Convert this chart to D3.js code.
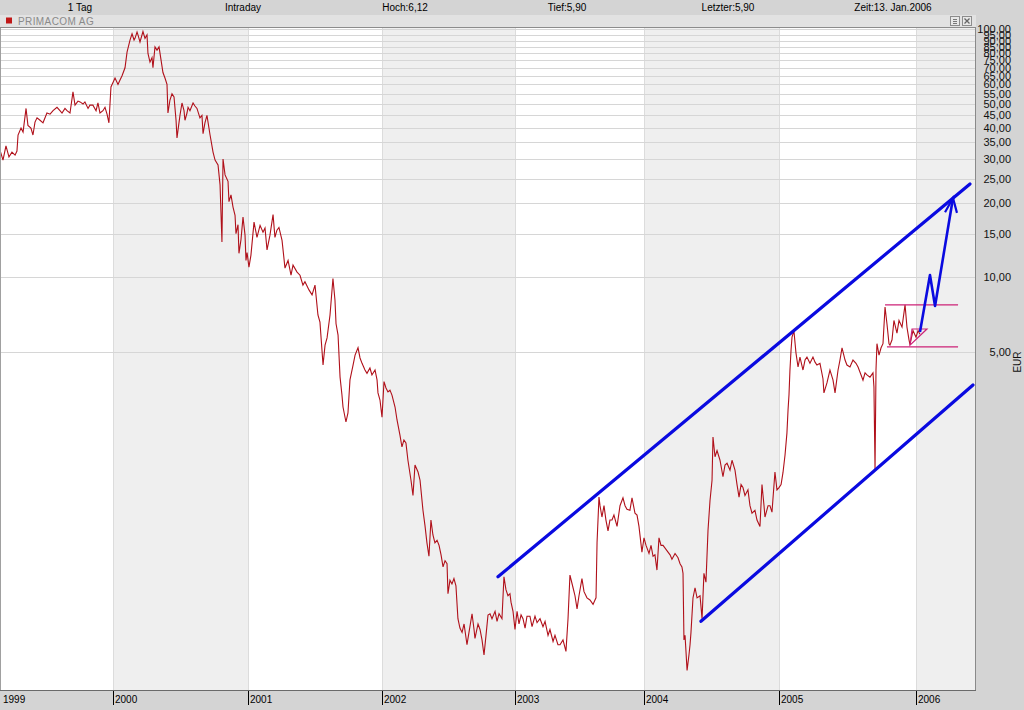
<!DOCTYPE html>
<html><head><meta charset="utf-8">
<script src="https://cdn.jsdelivr.net/npm/d3@7"></script>
<style>
html,body{margin:0;padding:0;background:#d4d4d4;}
svg{display:block;font-family:"Liberation Sans",Arial,sans-serif;}
</style></head>
<body>
<svg id="c" width="1024" height="710"></svg>
<script>
// ---------- DATA ----------
const headerItems = ["1 Tag", "Intraday", "Hoch:6,12", "Tief:5,90", "Letzter:5,90", "Zeit:13. Jan.2006"];
const seriesName = "PRIMACOM AG";
const yearLabels = ["1999", "2000", "2001", "2002", "2003", "2004", "2005", "2006"];
const yearStarts = [1999.167, 2000, 2001, 2002, 2003, 2004, 2005, 2006, 2007];
const yTicks = [5, 10, 15, 20, 25, 30, 35, 40, 45, 50, 55, 60, 65, 70, 75, 80, 85, 90, 95, 100];
const unitLabel = "EUR";
// price series: [decimal year, price EUR]
const dates = [
1999.167,1999.189,1999.211,1999.233,1999.255,1999.278,1999.292,1999.300,1999.322,1999.337,1999.359,1999.373,1999.395,1999.410,1999.425,1999.440,1999.462,1999.484,1999.499,1999.513,1999.536,1999.558,1999.587,1999.609,1999.624,1999.646,1999.661,1999.683,1999.705,1999.720,1999.742,1999.757,1999.779,1999.793,1999.816,1999.830,1999.852,1999.875,1999.889,1999.904,1999.926,1999.941,1999.956,1999.970,1999.985,
2000.015,2000.037,2000.052,2000.067,2000.089,2000.104,2000.126,2000.141,2000.156,2000.163,2000.178,2000.185,2000.200,2000.222,2000.237,2000.252,2000.259,2000.274,2000.289,2000.296,2000.311,2000.326,2000.341,2000.356,2000.370,2000.385,2000.400,2000.407,2000.422,2000.437,2000.452,2000.467,2000.474,2000.496,2000.511,2000.526,2000.533,2000.548,2000.556,2000.570,2000.593,2000.607,2000.622,2000.644,2000.659,2000.667,2000.681,2000.696,2000.719,2000.741,2000.756,2000.778,2000.793,2000.807,2000.815,2000.830,2000.852,2000.859,2000.874,2000.889,2000.904,2000.911,2000.926,2000.933,2000.948,2000.963,2000.978,2000.985,2000.993,
2001.007,2001.022,2001.045,2001.067,2001.090,2001.112,2001.127,2001.142,2001.164,2001.187,2001.201,2001.216,2001.231,2001.254,2001.276,2001.299,2001.321,2001.336,2001.366,2001.388,2001.410,2001.425,2001.455,2001.478,2001.500,2001.522,2001.537,2001.560,2001.575,2001.590,2001.612,2001.634,2001.649,2001.657,2001.672,2001.687,2001.701,2001.709,2001.731,2001.746,2001.761,2001.784,2001.799,2001.821,2001.836,2001.851,2001.873,2001.888,2001.910,2001.925,2001.948,2001.963,2001.970,2001.985,2002.000,
2002.015,2002.030,2002.045,2002.060,2002.075,2002.098,2002.113,2002.135,2002.150,2002.165,2002.180,2002.195,2002.218,2002.233,2002.248,2002.271,2002.286,2002.308,2002.323,2002.338,2002.353,2002.368,2002.383,2002.398,2002.414,2002.429,2002.444,2002.459,2002.474,2002.489,2002.496,2002.511,2002.526,2002.541,2002.556,2002.571,2002.586,2002.602,2002.617,2002.639,2002.654,2002.677,2002.692,2002.699,2002.722,2002.737,2002.752,2002.767,2002.782,2002.797,2002.812,2002.827,2002.850,2002.865,2002.880,2002.902,2002.917,2002.932,2002.947,2002.962,2002.970,2002.985,2003.000,
2003.016,2003.031,2003.047,2003.062,2003.078,2003.093,2003.116,2003.132,2003.155,2003.171,2003.194,2003.217,2003.233,2003.256,2003.271,2003.295,2003.310,2003.333,2003.349,2003.372,2003.395,2003.411,2003.426,2003.450,2003.465,2003.481,2003.496,2003.519,2003.535,2003.558,2003.581,2003.605,2003.620,2003.628,2003.636,2003.651,2003.659,2003.674,2003.690,2003.705,2003.721,2003.736,2003.752,2003.767,2003.791,2003.814,2003.837,2003.853,2003.868,2003.891,2003.907,2003.930,2003.946,2003.961,2003.984,2004.000,
2004.015,2004.037,2004.052,2004.067,2004.081,2004.096,2004.111,2004.126,2004.141,2004.163,2004.178,2004.193,2004.207,2004.230,2004.252,2004.267,2004.281,2004.289,2004.296,2004.304,2004.311,2004.319,2004.333,2004.341,2004.348,2004.363,2004.378,2004.393,2004.415,2004.430,2004.444,2004.459,2004.474,2004.489,2004.504,2004.511,2004.526,2004.541,2004.563,2004.585,2004.600,2004.615,2004.637,2004.652,2004.674,2004.689,2004.704,2004.719,2004.733,2004.748,2004.770,2004.785,2004.800,2004.822,2004.837,2004.859,2004.874,2004.889,2004.896,2004.919,2004.933,2004.948,2004.970,2004.985,2005.000,
2005.015,2005.029,2005.044,2005.058,2005.066,2005.073,2005.080,2005.088,2005.095,2005.109,2005.124,2005.139,2005.153,2005.175,2005.190,2005.204,2005.226,2005.248,2005.263,2005.277,2005.299,2005.321,2005.328,2005.350,2005.372,2005.394,2005.409,2005.431,2005.445,2005.460,2005.482,2005.496,2005.518,2005.540,2005.562,2005.577,2005.599,2005.613,2005.628,2005.642,2005.664,2005.686,2005.693,2005.701,2005.708,2005.715,2005.730,2005.745,2005.759,2005.774,2005.788,2005.803,2005.810,2005.825,2005.839,2005.861,2005.876,2005.898,2005.920,2005.934,2005.949,2005.956,2005.978,2006.000,2006.015,2006.029
];
const prices = [
32.6,29.7,33.9,30.6,32.0,31.1,32.3,37.5,40,38.5,48,41,40,37.5,42.3,44,43,42,44,46,45.5,47,48.5,47,46,48,47,46,56,49.5,51.4,51,50,51,48,49.5,49.5,47,50.5,46,47,48.5,45.5,42,58.6,
63.7,60,62.5,65,70,81,90.6,96,90.6,92,97.6,95,89,98,92,95,80,73.8,77,70,85,82.5,85,75.2,67,63.7,60,46,51.9,55,53.4,43,36.5,45,50.5,47,43,46,48.5,47,50.5,49.1,48,44,45,38,42,45,37.5,32,29.7,28.4,23.6,13.9,30,25.9,24.4,20.2,21.5,19.2,17.8,15,16.3,12.5,14.2,17.5,14.8,11.7,12.6,
11.0,12.3,16.7,14.5,16.2,15.2,15.8,12.9,14.8,17.9,14.5,15.5,15.9,14.1,10.9,11.7,10.2,11.2,10.5,10.2,9.31,9.6,8.9,8.5,9.3,7.05,6.6,4.43,5.33,5.7,7.05,9.9,8.1,6.5,5.85,3.96,3.36,3.0,2.61,2.84,3.86,4.43,4.86,5.2,4.73,4.5,4.23,4.1,4.31,4.04,4.23,3.86,3.42,3.20,2.73,
3.8,3.58,3.45,3.51,3.35,3.0,2.66,2.31,2.07,2.21,2.15,1.83,1.52,1.32,1.75,1.64,1.52,1.15,1.0,0.85,0.75,1.05,0.914,0.85,0.87,0.83,0.76,0.68,0.72,0.70,0.53,0.60,0.58,0.61,0.57,0.42,0.385,0.37,0.40,0.33,0.37,0.44,0.38,0.35,0.40,0.38,0.345,0.30,0.36,0.435,0.44,0.42,0.45,0.41,0.44,0.42,0.62,0.55,0.52,0.53,0.49,0.45,0.38,
0.45,0.40,0.435,0.42,0.385,0.43,0.43,0.39,0.43,0.405,0.42,0.39,0.41,0.36,0.38,0.34,0.36,0.33,0.33,0.345,0.31,0.42,0.63,0.56,0.52,0.46,0.52,0.61,0.54,0.51,0.50,0.48,0.50,0.51,0.85,1.30,1.2,1.08,1.2,1.05,0.95,1.05,1.05,1.10,0.99,1.2,1.29,1.2,1.16,1.15,1.29,1.12,1.10,0.99,0.78,0.89,
0.83,0.77,0.83,0.75,0.76,0.66,0.89,0.83,0.83,0.80,0.78,0.76,0.73,0.77,0.74,0.70,0.68,0.64,0.345,0.36,0.31,0.26,0.30,0.33,0.37,0.51,0.56,0.51,0.52,0.42,0.64,0.59,0.95,1.26,1.52,2.27,1.89,2.0,1.83,1.57,1.75,1.78,1.67,1.83,1.67,1.46,1.30,1.46,1.42,1.32,1.39,1.2,1.12,1.15,1.05,0.99,1.46,1.2,1.08,1.2,1.2,1.13,1.64,1.39,1.42,
1.46,1.63,1.92,2.36,2.92,3.36,4.23,5.1,5.74,6.08,4.95,4.35,4.77,4.23,4.64,4.77,4.5,4.77,4.55,4.43,4.5,3.9,3.42,3.75,4.23,3.86,3.42,4.23,4.64,5.2,4.64,4.43,4.35,4.64,4.5,4.35,4.04,3.85,4.12,4.04,3.96,4.12,3.61,1.67,4.23,5.4,4.86,5.2,5.4,7.59,6.5,5.4,5.33,5.6,6.7,5.96,6.7,6.3,7.75,6.3,5.6,5.35,6.1,5.74,6.1,5.9
];
// drawn annotations (decimal year, price)
const channelUpper = [[2002.872, 0.62], [2006.394, 23.8]];
const channelLower = [[2004.422, 0.41], [2006.416, 3.68]];
const projection = [[2006.029, 6.02], [2006.102, 10.22], [2006.139, 7.67], [2006.270, 20.9]];
const arrowHead = [[2006.212, 18.3], [2006.270, 20.9], [2006.299, 18.2]];
const rangeTop = [[2005.774, 7.75], [2006.307, 7.75]];
const rangeBottom = [[2005.788, 5.24], [2006.307, 5.24]];
const triangle = [[2005.971, 6.19], [2006.080, 6.19], [2005.956, 5.33]];

// ---------- LAYOUT ----------
const W = 1024, H = 710;
const plot = {l: 0, r: 975, t: 28, b: 690};
const svg = d3.select("#c");

const x = d3.scaleLinear().domain(yearStarts).range([0, 113, 248, 382, 515, 644, 779, 916, 1053]);
const y = d3.scaleLog().domain([5, 100]).range([352, 29.4]);

// background
svg.append("rect").attr("width", W).attr("height", H).attr("fill", "#d4d4d4");

// plot background + year bands
const gPlot = svg.append("g");
gPlot.append("rect").attr("x", plot.l).attr("y", plot.t).attr("width", plot.r - plot.l).attr("height", plot.b - plot.t).attr("fill", "#ffffff");
svg.append("clipPath").attr("id", "clip").append("rect")
  .attr("x", plot.l).attr("y", plot.t).attr("width", plot.r - plot.l).attr("height", plot.b - plot.t);
const gClip = svg.append("g").attr("clip-path", "url(#clip)");
yearLabels.forEach((lab, i) => {
  if (i % 2 === 1) {
    gClip.append("rect").attr("x", x(yearStarts[i])).attr("y", plot.t)
      .attr("width", x(yearStarts[i + 1]) - x(yearStarts[i])).attr("height", plot.b - plot.t)
      .attr("fill", "#efefef");
  }
});
// vertical year lines
yearLabels.forEach((lab, i) => {
  if (i > 0) gClip.append("line").attr("x1", Math.round(x(yearStarts[i])) + 0.5).attr("x2", Math.round(x(yearStarts[i])) + 0.5)
    .attr("y1", plot.t).attr("y2", plot.b).attr("stroke", "#dcdcdc").attr("stroke-width", 1);
});
// horizontal grid
yTicks.forEach(v => {
  const yy = Math.round(y(v)) + 0.5;
  gClip.append("line").attr("x1", plot.l).attr("x2", plot.r).attr("y1", yy).attr("y2", yy)
    .attr("stroke", "#d6d6d6").attr("stroke-width", 1);
});

// price line
const pts = dates.map((d, i) => [d, prices[i]]);
const line = d3.line().x(d => x(d[0])).y(d => y(d[1]));
gClip.append("path").datum(pts).attr("d", line).attr("fill", "none")
  .attr("stroke", "#b0101a").attr("stroke-width", 1.1).attr("stroke-linejoin", "miter");

// magenta range annotations
[rangeTop, rangeBottom].forEach(seg => {
  gClip.append("path").datum(seg).attr("d", line).attr("fill", "none").attr("stroke", "#cc2277").attr("stroke-width", 1.2);
});
gClip.append("path").datum(triangle).attr("d", d => line(d) + "Z").attr("fill", "none").attr("stroke", "#cc2277").attr("stroke-width", 1.2);

// blue channel + projection
[channelUpper, channelLower].forEach(seg => {
  gClip.append("path").datum(seg).attr("d", line).attr("fill", "none").attr("stroke", "#0a0ae0").attr("stroke-width", 3.2).attr("stroke-linecap", "round");
});
gClip.append("path").datum(projection).attr("d", line).attr("fill", "none").attr("stroke", "#0a0ae0").attr("stroke-width", 2.6).attr("stroke-linejoin", "round");
gClip.append("path").datum(arrowHead).attr("d", line).attr("fill", "none").attr("stroke", "#0a0ae0").attr("stroke-width", 2.2);

// plot borders
svg.append("line").attr("x1", plot.r + 0.5).attr("x2", plot.r + 0.5).attr("y1", plot.t).attr("y2", plot.b).attr("stroke", "#8a8a8a");
svg.append("line").attr("x1", 0).attr("x2", plot.r + 1).attr("y1", plot.b + 0.5).attr("y2", plot.b + 0.5).attr("stroke", "#6a6a6a");
svg.append("line").attr("x1", 0.5).attr("x2", 0.5).attr("y1", plot.t).attr("y2", plot.b).attr("stroke", "#a0a0a0");

// header bar
svg.append("rect").attr("x", 0).attr("y", 0).attr("width", W).attr("height", 15).attr("fill", "#d4d4d4");
const hx = [80, 243, 405, 567, 728, 893];
headerItems.forEach((t, i) => {
  svg.append("text").attr("x", hx[i]).attr("y", 11).attr("text-anchor", "middle")
    .attr("font-size", 10).attr("fill", "#000").text(t);
});
// legend bar
svg.append("rect").attr("x", 0).attr("y", 15).attr("width", plot.r + 1).attr("height", 13).attr("fill", "#e2e2e2");
svg.append("line").attr("x1", 0).attr("x2", plot.r + 1).attr("y1", 27.5).attr("y2", 27.5).attr("stroke", "#8c8c8c");
svg.append("rect").attr("x", 6).attr("y", 17.5).attr("width", 6).attr("height", 6).attr("fill", "#c01818");
svg.append("text").attr("x", 18).attr("y", 25).attr("font-size", 10).attr("fill", "#8a8a8a").attr("letter-spacing", 0.4).text(seriesName);
// small window icons
[950, 962].forEach((ix, k) => {
  svg.append("rect").attr("x", ix + 0.5).attr("y", 16.5).attr("width", 9).attr("height", 9).attr("fill", "#e8e8e8").attr("stroke", "#8c8c8c");
  if (k === 0) {
    [19, 21, 23].forEach(yy => svg.append("line").attr("x1", ix + 3).attr("x2", ix + 7).attr("y1", yy + 0.5).attr("y2", yy + 0.5).attr("stroke", "#777"));
  } else {
    svg.append("path").attr("d", `M${ix + 2.5},${18.5}L${ix + 7.5},${23.5}M${ix + 7.5},${18.5}L${ix + 2.5},${23.5}`).attr("stroke", "#666").attr("stroke-width", 1.3);
  }
});

// y axis labels
const fmt = v => d3.format(".2f")(v).replace(".", ",");
svg.append("g").selectAll("text").data(yTicks).join("text")
  .attr("x", 1011).attr("y", d => y(d) + 4).attr("text-anchor", "end")
  .attr("font-size", 11).attr("fill", "#111").text(fmt);
svg.append("text").attr("transform", `translate(1021,362) rotate(-90)`).attr("text-anchor", "middle")
  .attr("font-size", 10).attr("fill", "#111").text(unitLabel);

// x axis
const gx = svg.append("g");
yearLabels.forEach((lab, i) => {
  const xx = i === 0 ? 0 : Math.round(x(yearStarts[i]));
  if (i > 0) gx.append("line").attr("x1", xx + 0.5).attr("x2", xx + 0.5).attr("y1", 691).attr("y2", 705).attr("stroke", "#000");
  gx.append("text").attr("x", xx + (i === 0 ? 3 : 2)).attr("y", 703).attr("font-size", 10).attr("fill", "#000").text(lab);
});
</script>
</body></html>
